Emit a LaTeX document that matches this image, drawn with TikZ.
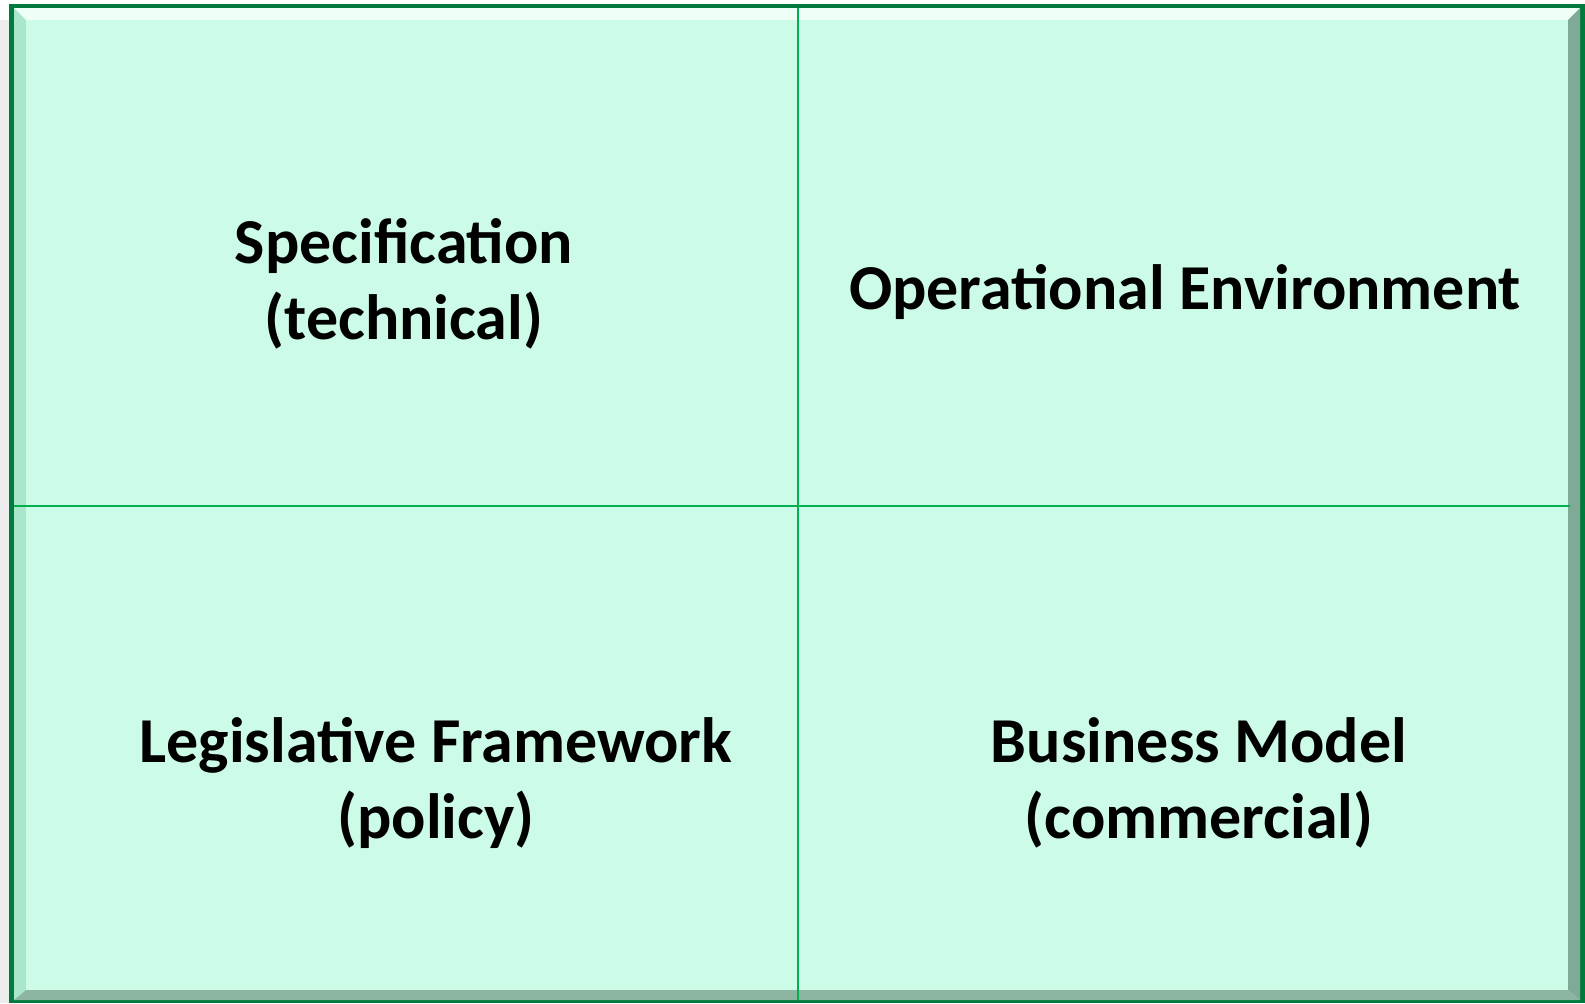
\documentclass[tikz,border=0pt]{standalone}
\usepackage{fontspec}
\setmainfont{Carlito}
\definecolor{mint}{HTML}{CCFBE8}
\definecolor{darkgreen}{HTML}{007A3D}
\definecolor{divgreen}{HTML}{00B050}
\definecolor{bevlight}{HTML}{EFFFF8}
\definecolor{bevleft}{HTML}{A9E6CC}
\definecolor{bevright}{HTML}{7FAA96}
\definecolor{bevbottom}{HTML}{8CB5A2}
\definecolor{shadowgray}{HTML}{EDEDED}
\tikzset{
  quadtext/.style={font=\fontsize{32}{38}\selectfont\bfseries, align=center, text=black, inner sep=0pt},
  divider/.style={draw=divgreen, line width=1.2pt}
}
\begin{document}
\begin{tikzpicture}[x=0.5pt,y=-0.5pt]
\useasboundingbox (0,0) rectangle (1585,1003);
\fill[white] (0,0) rectangle (1585,1003);
% soft shadow on left
\fill[shadowgray] (0,20) rectangle (9,1003);
% outer dark border
\fill[darkgreen] (9,4) rectangle (1585,1003);
% face
\fill[mint] (14,8) rectangle (1580,1000);
% bevels
\fill[bevlight] (14,8) -- (1580,8) -- (1568,20) -- (26,20) -- cycle;
\fill[bevleft] (14,8) -- (26,20) -- (26,990) -- (14,1000) -- cycle;
\fill[bevright] (1580,8) -- (1580,1000) -- (1568,990) -- (1568,20) -- cycle;
\fill[bevbottom] (14,1000) -- (26,990) -- (1568,990) -- (1580,1000) -- cycle;
\fill[mint] (26,20) rectangle (1568,990);
% dividers
\coordinate (top) at (798,8);
\coordinate (bot) at (798,1000);
\coordinate (lft) at (14,506);
\coordinate (rgt) at (1570,506);
\draw[divider] (lft) -- (rgt);
\draw[divider] (top) -- (bot);
% texts
\node[quadtext] (spec) at (404,284) {Specification\\(technical)};
\node[quadtext] (oper) at (1185,292) {Operational Environment};
\node[quadtext] (legis) at (436,783) {Legislative Framework\\(policy)};
\node[quadtext] (biz) at (1199,783) {Business Model\\(commercial)};
\end{tikzpicture}
\end{document}
